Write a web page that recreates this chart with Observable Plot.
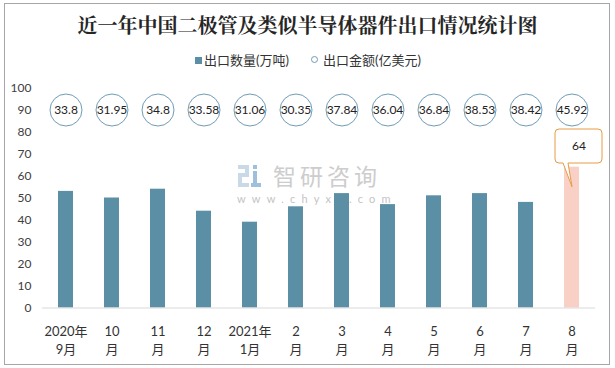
<!DOCTYPE html>
<html><head><meta charset="utf-8">
<script src="https://cdn.jsdelivr.net/npm/d3@7"></script>
<script src="https://cdn.jsdelivr.net/npm/@observablehq/plot@0.6"></script>
<style>
body{margin:0;background:#fff;}
#wrap{position:relative;width:615px;height:368px;overflow:hidden;font-family:Lato,"Noto Sans CJK SC",sans-serif;background:#fff;}
#frame{position:absolute;left:4px;top:3px;width:606px;height:362px;border:1px solid #a6a6a6;box-sizing:border-box;}
#title{position:absolute;left:0;width:615px;top:12px;text-align:center;font:bold 20px/26px "Noto Serif CJK SC","Noto Sans CJK SC",serif;color:#262626;}
.leg{position:absolute;top:52px;font-size:13px;line-height:17px;color:#333;white-space:nowrap;}
#wm{position:absolute;left:237px;top:163px;color:#cdcdcd;}
#wm .cn{position:absolute;left:36px;top:0px;font-size:23px;line-height:24px;letter-spacing:4px;white-space:nowrap;font-family:"Noto Sans CJK SC";}
#wm .url{position:absolute;left:0;top:30px;font-size:11px;line-height:11px;letter-spacing:6.2px;white-space:nowrap;color:#c4c4c4;}
#chart{position:absolute;left:0;top:0;}
</style></head>
<body>
<div id="wrap">
  <div id="frame"></div>
  <div id="wm">
    <svg width="28" height="26" style="position:absolute;left:0;top:0">
      <rect x="1" y="2" width="11" height="4" fill="#c9d9e8"/>
      <rect x="8" y="2" width="4" height="11" fill="#c9d9e8"/>
      <rect x="1" y="10" width="11" height="4" fill="#c9d9e8"/>
      <rect x="1" y="10" width="4" height="13" fill="#c9d9e8"/>
      <rect x="1" y="20" width="11" height="4" fill="#c9d9e8"/>
      <rect x="16" y="2" width="4" height="4" fill="#9fc0dc"/>
      <rect x="16" y="8" width="4" height="16" fill="#9fc0dc"/>
      <rect x="14" y="20" width="10" height="4" fill="#9fc0dc"/>
    </svg>
    <div class="cn">智研咨询</div>
    <div class="url">www.chyxx.com</div>
  </div>
  <div id="title">近一年中国二极管及类似半导体器件出口情况统计图</div>
  <div class="leg" style="left:195px"><span style="display:inline-block;width:7px;height:7px;background:#5b8fa6;margin-right:2px;vertical-align:1px"></span>出口数量(万吨)</div>
  <div class="leg" style="left:311px"><span style="display:inline-block;width:5px;height:5px;border:1px solid #6f9cb5;border-radius:50%;margin-right:5px;vertical-align:2px"></span>出口金额(亿美元)</div>
  <div id="chart"></div>
</div>
<script>
const months = ["2020年\n9月","10\n月","11\n月","12\n月","2021年\n1月","2\n月","3\n月","4\n月","5\n月","6\n月","7\n月","8\n月"];
const volume = [53, 50, 54, 44, 39, 46, 52, 47, 51, 52, 48, 64];
const exportValue = [33.8, 31.95, 34.8, 33.58, 31.06, 30.35, 37.84, 36.04, 36.84, 38.53, 38.42, 45.92];
const yTicks = [0, 10, 20, 30, 40, 50, 60, 70, 80, 90, 100];
const circleLevel = 90;

const data = months.map((m, i) => ({month: m, volume: volume[i], value: exportValue[i], highlight: i === months.length - 1}));
const last = data.filter(d => d.highlight);

const callout = (index, scales) => {
  const sx = scales.x;
  const bw = typeof sx.bandwidth === "function" ? sx.bandwidth() : (sx.bandwidth || 0);
  const d = last[0];
  const cx = sx(d.month) + bw / 2;
  const cy = scales.y(d.volume);
  const x0 = cx - 16.5, x1 = cx + 30.5, y0 = cy - 37.7, y1 = cy - 3.7, r = 4;
  const p = d3.path();
  p.moveTo(x0 + r, y0);
  p.lineTo(x1 - r, y0); p.quadraticCurveTo(x1, y0, x1, y0 + r);
  p.lineTo(x1, y1 - r); p.quadraticCurveTo(x1, y1, x1 - r, y1);
  p.lineTo(cx - 3.5, y1); p.lineTo(cx + 0.5, cy + 20); p.lineTo(cx - 8.5, y1);
  p.lineTo(x0 + r, y1); p.quadraticCurveTo(x0, y1, x0, y1 - r);
  p.lineTo(x0, y0 + r); p.quadraticCurveTo(x0, y0, x0 + r, y0);
  p.closePath();
  const el = document.createElementNS("http://www.w3.org/2000/svg", "path");
  el.setAttribute("d", p.toString());
  el.setAttribute("fill", "white");
  el.setAttribute("stroke", "#e89a45");
  el.setAttribute("stroke-width", "1");
  return el;
};

const plot = Plot.plot({
  width: 615,
  height: 368,
  marginLeft: 42,
  marginRight: 20,
  marginTop: 87.5,
  marginBottom: 60.5,
  style: {background: "transparent", fontFamily: 'Lato, "Noto Sans CJK SC", sans-serif', color: "#333"},
  x: {domain: months, paddingInner: 0.67, paddingOuter: 0.335},
  y: {domain: [0, 100]},
  marks: [
    Plot.barY(data, {x: "month", y: "volume", fill: d => d.highlight ? "#f8d0c6" : "#5b8fa6"}),
    Plot.ruleY([0], {stroke: "#d9d9d9", strokeWidth: 1}),
    Plot.axisY({ticks: yTicks, tickSize: 0, tickPadding: 11, fontSize: 12, color: "#404040", label: null}),
    Plot.axisX({tickSize: 0, tickPadding: 14.5, fontSize: 13, lineHeight: 1.41, color: "#333", label: null}),
    Plot.dot(data, {x: "month", y: () => circleLevel, r: 16, stroke: "#6f9cb5", fill: "white", strokeWidth: 1}),
    Plot.text(data, {x: "month", y: () => circleLevel, text: d => String(d.value), fontSize: 12, fill: "#222"}),
    callout,
    Plot.text(last, {x: "month", y: "volume", text: d => String(d.volume), dx: 7, dy: -21, fontSize: 12, fill: "#222"})
  ]
});
document.getElementById("chart").appendChild(plot);
</script>
</body></html>
